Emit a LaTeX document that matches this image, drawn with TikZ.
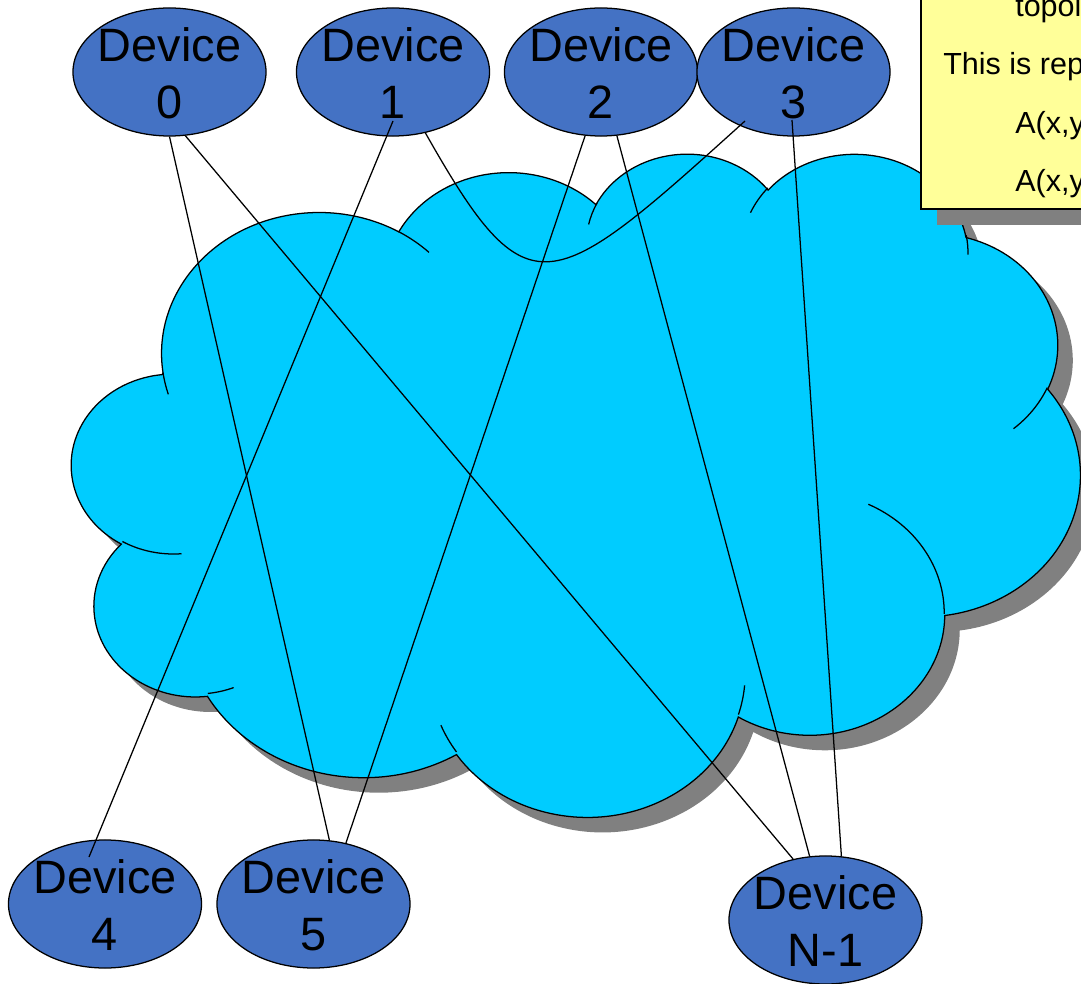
\documentclass[tikz,border=0pt]{standalone}
\usepackage{fontspec}
\setmainfont{Liberation Sans}
\usetikzlibrary{shapes.geometric,calc}
\definecolor{cloudblue}{HTML}{00CCFF}
\definecolor{devblue}{HTML}{4472C4}
\definecolor{shadowgray}{HTML}{808080}
\definecolor{noteyellow}{HTML}{FFFF99}

% OOXML-style arcTo: x radius, y radius, start angle, sweep (visual angles)
\newcommand\carc[4]{\pgfextra{%
  \pgfmathparse{atan2((#1)*sin(#3),(#2)*cos(#3))}\xdef\cA{\pgfmathresult}%
  \pgfmathparse{atan2((#1)*sin((#3)+(#4)),(#2)*cos((#3)+(#4)))}\xdef\cB{\pgfmathresult}%
  \pgfmathparse{\cB-(\cA)}\let\cD\pgfmathresult
  \pgfmathparse{\cD-360*round((\cD-(#4))/360)}\xdef\cD{\pgfmathresult}%
  } arc[start angle=\cA, delta angle=\cD, x radius=#1, y radius=#2]}

\newcommand\cloudpath{(39.00,143.70)
 \carc{67.53}{91.90}{-190.48748}{123.78053}
 \carc{53.33}{72.67}{-144.10238}{89.94523}
 \carc{43.65}{59.45}{-145.80792}{99.72302}
 \carc{48.57}{65.95}{-130.98607}{117.24173}
 \carc{53.33}{72.73}{-78.70888}{109.02692}
 \carc{67.75}{92.20}{-46.26725}{130.269}
 \carc{57.85}{78.67}{0.62502}{114.03333}
 \carc{67.52}{92.15}{22.4516}{115.17255}
 \carc{77.20}{105.43}{66.24263}{75.71102}
 \carc{43.60}{59.18}{-274.94208}{146.73557}
 \carc{43.45}{59.45}{-246.8285}{152.51885}
 -- cycle}

\newcommand\cloudinner{(46.93,261.77) \carc{43.45}{59.45}{86.742}{26.4295}
 (69.28,348.99) \carc{43.60}{59.18}{73.610467}{11.447467}
 (164.78,390.90) \carc{67.52}{92.15}{137.62415}{14.0811}
 (288.27,347.51) \carc{67.52}{92.15}{6.453267}{15.99835}
 (341.29,229.54) \carc{57.85}{78.67}{-70.29235}{70.917367}
 (417.98,153.54) \carc{53.33}{72.73}{30.318033}{27.7515}
 (383.24,54.26) \carc{48.57}{65.95}{-13.744333}{14.8589}
 (290.78,39.52) \carc{48.57}{65.95}{-149.18145}{18.195367}
 (221.41,47.20) \carc{43.65}{59.45}{-163.494267}{17.68635}
 (140.00,51.92) \carc{67.53}{91.90}{-66.70695}{12.31935}
 (41.27,157.89) \carc{67.53}{91.90}{157.65435}{11.858167}}

\begin{document}
\begin{tikzpicture}[x=0.025cm, y=-0.025cm,
  dev/.style={ellipse, draw=black, line width=0.9pt, fill=devblue,
    minimum width=4.825cm, minimum height=3.2cm, inner sep=0pt},
  devtxt/.style={align=center, inner sep=0pt,
    font=\fontsize{33.3pt}{40.5pt}\selectfont},
  conn/.style={draw=black, line width=0.9pt},
  outline/.style={draw=black, line width=0.9pt},
  notebox/.style={rectangle, draw=black, line width=0.9pt, fill=noteyellow,
    minimum width=5cm, minimum height=6cm, inner sep=0pt},
  noteshadow/.style={rectangle, fill=shadowgray,
    minimum width=5cm, minimum height=6cm, inner sep=0pt},
  notetxt/.style={anchor=base west, inner sep=0pt,
    font=\fontsize{21.7pt}{26pt}\selectfont}]
\useasboundingbox (0,0) rectangle (1081,984);
\clip (0,0) rectangle (1081,984);

% cloud with shadow
\begin{scope}[shift={(87,167)}, xscale=2.333333, yscale=1.534722]
  \fill[shadowgray] \cloudpath;
\end{scope}
\begin{scope}[shift={(72,152)}, xscale=2.333333, yscale=1.534722]
  \filldraw[fill=cloudblue, outline] \cloudpath;
  \draw[outline] \cloudinner;
\end{scope}

% note box (cut by the picture's edge)
\node[noteshadow] (nshadow) at (1037,105) {};
\node[notebox] (note) at (1021,89) {};
\node[notetxt] (n1) at (1015,17) {topol};
\node[notetxt] (n2) at (943,75) {This is rep};
\node[notetxt] (n3) at (1015,134) {A(x,y};
\node[notetxt] (n4) at (1015,192) {A(x,y};

% devices
\node[dev] (d0) at (169.5,72) {};
\node[dev] (d1) at (393,72) {};
\node[dev] (d2) at (601,72) {};
\node[dev] (d3) at (793.5,72) {};
\node[dev] (d4) at (105,904) {};
\node[dev] (d5) at (313.5,904) {};
\node[dev] (dN) at (825.5,920) {};

\node[devtxt] (t0) at ([yshift=-1pt]d0.center) {Device\\0};
\node[devtxt] (t1) at ([yshift=-1pt]d1.center) {Device\\1};
\node[devtxt] (t2) at ([yshift=-1pt]d2.center) {Device\\2};
\node[devtxt] (t3) at ([yshift=-1pt]d3.center) {Device\\3};
\node[devtxt] (t4) at ([yshift=-1pt]d4.center) {Device\\4};
\node[devtxt] (t5) at ([yshift=-1pt]d5.center) {Device\\5};
\node[devtxt] (tN) at ([yshift=-1pt]dN.center) {Device\\N-1};

% connectors
\draw[conn] (d0.south) -- (d5.76);
\draw[conn] (d0.-76) -- (dN.118);
\draw[conn] ($(d1.center)+(0,49)$) -- ($(d4.center)+(-16,-47)$);
\draw[conn] (d1.-62) .. controls +(103,182) and +(-196,177) .. ($(d3.center)+(-48.5,49)$);
\draw[conn] (d2.-104) -- (d5.62);
\draw[conn] (d2.-76) -- (dN.104);
\draw[conn] ($(d3.center)+(-1.5,48)$) -- (dN.76);
\end{tikzpicture}
\end{document}
